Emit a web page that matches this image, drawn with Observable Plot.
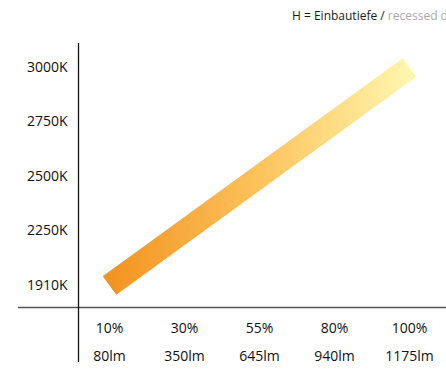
<!DOCTYPE html>
<html>
<head>
<meta charset="utf-8">
<script src="https://cdn.jsdelivr.net/npm/d3@7"></script>
<script src="https://cdn.jsdelivr.net/npm/@observablehq/plot@0.6"></script>
<style>
  html, body { margin: 0; padding: 0; background: #fff; width: 446px; height: 371px; overflow: hidden; }
  #wrap { position: relative; width: 446px; height: 371px; }
  #header { position: absolute; top: 8px; left: 292px; width: 154px; white-space: nowrap; overflow: hidden;
            font-family: "Open Sans", sans-serif; font-size: 12px; line-height: 16px; color: #1a1a1a; }
  #header .en { color: #aaa; }
  #chart { position: absolute; top: 0; left: 0; }
</style>
</head>
<body>
<div id="wrap">
  <div id="chart"></div>
  <div id="header">H = Einbautiefe / <span class="en">recessed depth</span></div>
</div>
<script>
const percentLabels = ["10%", "30%", "55%", "80%", "100%"];
const lumenLabels = ["80lm", "350lm", "645lm", "940lm", "1175lm"];
const kelvinLabels = ["1910K", "2250K", "2500K", "2750K", "3000K"];
// each dimming step maps to a colour-temperature step
const stepKelvin = ["1910K", "2250K", "2500K", "2750K", "3000K"];

const data = percentLabels.map((p, i) => ({ xi: i, yi: kelvinLabels.indexOf(stepKelvin[i]) }));
const idx = percentLabels.map((_, i) => i);

const gradient = () => {
  const ns = "http://www.w3.org/2000/svg";
  const defs = document.createElementNS(ns, "defs");
  const lg = document.createElementNS(ns, "linearGradient");
  lg.setAttribute("id", "warmGrad");
  lg.setAttribute("x1", "0"); lg.setAttribute("x2", "1");
  lg.setAttribute("y1", "0"); lg.setAttribute("y2", "0");
  [["0%", "#F39320"], ["50%", "#FCC35C"], ["100%", "#FFF6AE"]].forEach(([o, c]) => {
    const s = document.createElementNS(ns, "stop");
    s.setAttribute("offset", o); s.setAttribute("stop-color", c);
    lg.appendChild(s);
  });
  defs.appendChild(lg);
  return defs;
};

const chart = Plot.plot({
  width: 446,
  height: 371,
  marginLeft: 18,
  marginRight: 0,
  marginTop: 43,
  marginBottom: 9,
  style: { fontFamily: "'Open Sans', sans-serif", fontSize: "14px", color: "#111", background: "#fff" },
  x: { type: "linear", domain: [-1.213, 4.493], axis: null },
  y: { type: "linear", domain: [-1.413, 4.44], axis: null },
  marks: [
    gradient,
    Plot.ruleY([-0.404], { stroke: "#555", strokeWidth: 1.3 }),
    Plot.ruleX([-0.413], { stroke: "#111", strokeWidth: 1.3 }),
    Plot.line(data, { x: "xi", y: "yi", stroke: "url(#warmGrad)", strokeWidth: 23, strokeLinecap: "butt", strokeLinejoin: "miter" }),
    Plot.axisY({ ticks: idx, anchor: "left", label: null, tickSize: 0, tickPadding: 0, dx: 49, tickFormat: i => kelvinLabels[i], fontSize: 14 }),
    Plot.axisX({ ticks: idx, anchor: "bottom", label: null, tickSize: 0, tickPadding: 0, dy: -39, tickFormat: i => percentLabels[i], fontSize: 14 }),
    Plot.axisX({ ticks: idx, anchor: "bottom", label: null, tickSize: 0, tickPadding: 0, dy: -11, tickFormat: i => lumenLabels[i], fontSize: 14 })
  ]
});
document.getElementById("chart").appendChild(chart);
</script>
</body>
</html>
